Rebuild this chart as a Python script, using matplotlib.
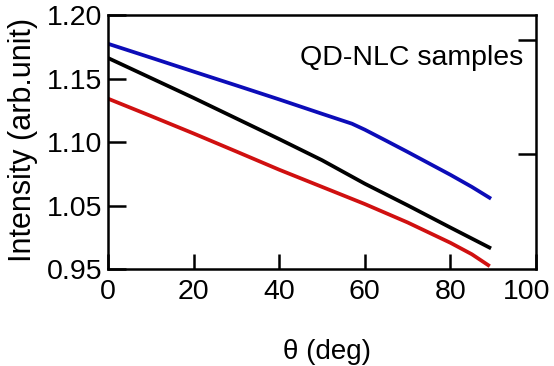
import matplotlib
matplotlib.use("Agg")
import matplotlib.pyplot as plt
from matplotlib.transforms import ScaledTranslation

# values
theta_blue = [0, 10, 20, 30, 40, 50, 57, 60, 65, 70, 75, 80, 85, 89.5]
int_blue = [1.1776, 1.1667, 1.1557, 1.1448, 1.1338, 1.1225, 1.1147, 1.1100,
            1.1013, 1.0925, 1.0835, 1.0745, 1.0650, 1.0557]

theta_black = [0, 10, 20, 30, 40, 50, 60, 70, 80, 89.5]
int_black = [1.1664, 1.1507, 1.1350, 1.1188, 1.1026, 1.0860, 1.0675, 1.0505,
             1.0330, 1.0166]

theta_red = [0, 10, 20, 30, 40, 50, 60, 70, 80, 85, 89.2]
int_red = [1.1344, 1.1208, 1.1070, 1.0928, 1.0785, 1.0650, 1.0515, 1.0370,
           1.0210, 1.0120, 1.0026]

x_ticks = [0, 20, 40, 60, 80, 100]
y_ticks = [1.00, 1.05, 1.10, 1.15, 1.20]
y_tick_labels = ["0.95", "1.05", "1.10", "1.15", "1.20"]
right_ticks = [1.0909, 1.1807]

plt.rcParams["font.family"] = ["Liberation Sans", "DejaVu Sans"]

fig = plt.figure(figsize=(5.54, 3.66), dpi=100)
ax = fig.add_axes([0.195, 0.2637, 0.7725, 0.6945])

ax.plot(theta_blue, int_blue, color="#0c0cb8", lw=2.7, solid_capstyle="butt")
ax.plot(theta_black, int_black, color="black", lw=2.7, solid_capstyle="butt")
ax.plot(theta_red, int_red, color="#d01010", lw=2.7, solid_capstyle="butt")

ax.set_xlim(0, 100)
ax.set_ylim(1.00, 1.20)
ax.set_xticks(x_ticks)
ax.set_yticks(y_ticks)
ax.set_yticklabels(y_tick_labels)

for s in ax.spines.values():
    s.set_linewidth(1.8)

ax.tick_params(axis="x", direction="in", length=11, width=1.8, labelsize=20.5, pad=7)
ax.tick_params(axis="y", direction="in", length=13, width=1.8, labelsize=20.5, pad=4)

# last x label sits a bit left so it stays inside the picture
lab = ax.get_xticklabels()[-1]
lab.set_transform(lab.get_transform() + ScaledTranslation(-7 / 72, 0, fig.dpi_scale_trans))

ax2 = ax.twinx()
ax2.set_ylim(ax.get_ylim())
ax2.set_yticks(right_ticks)
ax2.set_yticklabels([])
ax2.tick_params(axis="y", direction="in", length=13, width=1.8)
for s in ax2.spines.values():
    s.set_visible(False)

ax.set_ylabel("Intensity (arb.unit)", fontsize=22)
ax.yaxis.set_label_coords(-0.164, 0.51)
ax.set_xlabel("θ (deg)", fontsize=20)
ax.xaxis.set_label_coords(0.512, -0.273)

ax.text(0.97, 0.832, "QD-NLC samples", transform=ax.transAxes,
        ha="right", va="center", fontsize=20.5)

fig.savefig("out.png", dpi=100)
